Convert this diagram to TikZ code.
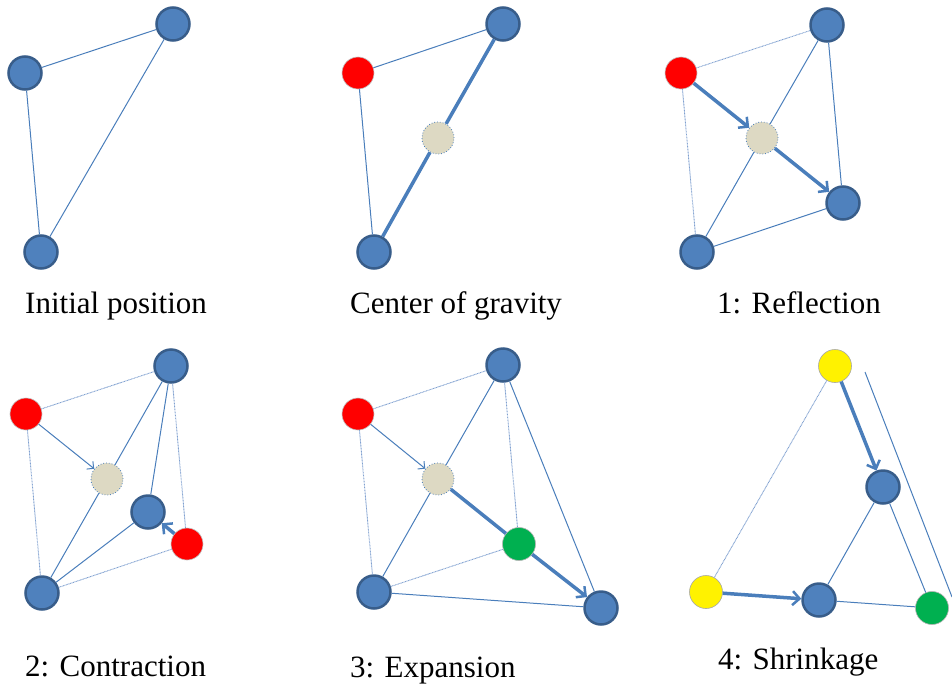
\documentclass[tikz,border=0pt]{standalone}
\usepackage{fontspec}
\setmainfont{Liberation Serif}
\usetikzlibrary{arrows.meta}
\definecolor{nblue}{HTML}{4F81BD}
\definecolor{nbord}{HTML}{385D8A}
\definecolor{ecol}{HTML}{4A7EBB}
\definecolor{dcol}{HTML}{7FA0D0}
\definecolor{beige}{HTML}{DDD9C3}
\definecolor{ngreen}{HTML}{00B050}
\tikzset{
  bnode/.style={circle,minimum size=33pt,inner sep=0pt,fill=nblue,draw=nbord,line width=2.5pt},
  rnode/.style={circle,minimum size=32pt,inner sep=0pt,fill=red,draw=gray!50,line width=0.6pt},
  cnode/.style={circle,minimum size=32pt,inner sep=0pt,fill=beige,draw=ecol,dotted,line width=0.8pt},
  gnode/.style={circle,minimum size=33pt,inner sep=0pt,fill=ngreen,draw=gray!60,line width=0.6pt},
  ynode/.style={circle,minimum size=33pt,inner sep=0pt,fill=yellow,draw=gray!70,line width=0.6pt},
  thin edge/.style={draw=ecol,line width=1pt},
  dot edge/.style={draw=dcol,line width=0.9pt,dash pattern=on 0.9pt off 0.6pt},
  thick edge/.style={draw=ecol,line width=3.5pt},
  thick arrow/.style={thick edge,-{Straight Barb[length=7pt,width=14pt,line width=2.5pt]}},
  thin arrow/.style={thin edge,-{Straight Barb[length=5pt,width=10pt,line width=1pt]}},
  lab/.style={anchor=base west,inner sep=0pt,font=\fontsize{31}{36}\selectfont}
}
\begin{document}
\begin{tikzpicture}[x=1pt,y=-1pt]
\useasboundingbox (0,0) rectangle (952,688);
% Panel 1
\node[bnode] (a1) at (173,24) {};
\node[bnode] (b1) at (25,73) {};
\node[bnode] (c1) at (41,252) {};
\draw[thin edge] (a1) -- (b1);
\draw[thin edge] (b1) -- (c1);
\draw[thin edge] (a1) -- (c1);
\node[lab] (l1) at (25,313) {Initial position};
% Panel 2
\node[bnode] (a2) at (503,24) {};
\node[rnode] (r2) at (358,73) {};
\node[cnode] (g2) at (438,138) {};
\node[bnode] (c2) at (374,252) {};
\draw[thin edge] (r2) -- (a2);
\draw[thin edge] (r2) -- (c2);
\draw[thick edge] (a2) -- (g2);
\draw[thick edge] (g2) -- (c2);
\node[lab] (l2) at (350,313) {Center of gravity};
% Panel 3
\node[bnode] (a3) at (827,25) {};
\node[rnode] (r3) at (681,73) {};
\node[cnode] (g3) at (762,138) {};
\node[bnode] (d3) at (843,203) {};
\node[bnode] (c3) at (697,252) {};
\draw[dot edge] (r3) -- (a3);
\draw[dot edge] (r3) -- (c3);
\draw[thin edge] (a3) -- (g3);
\draw[thin edge] (g3) -- (c3);
\draw[thin edge] (a3) -- (d3);
\draw[thin edge] (c3) -- (d3);
\draw[thick arrow] (r3) -- (g3);
\draw[thick arrow] (g3) -- (d3);
\node[lab] (l3) at (717,313) {1: Reflection};
% Panel 4
\node[bnode] (a4) at (171,366) {};
\node[rnode] (r4) at (26,414) {};
\node[cnode] (g4) at (107,479) {};
\node[bnode] (i4) at (148,512) {};
\node[rnode] (q4) at (187,544) {};
\node[bnode] (c4) at (42,593) {};
\draw[dot edge] (r4) -- (a4);
\draw[dot edge] (r4) -- (c4);
\draw[thin edge] (a4) -- (g4);
\draw[thin edge] (g4) -- (c4);
\draw[thin edge] (a4) -- (i4);
\draw[dot edge] (a4) -- (q4);
\draw[thin edge] (c4) -- (i4);
\draw[dot edge] (c4) -- (q4);
\draw[thin arrow] (r4) -- (g4);
\draw[thick arrow] (q4) -- (i4);
\node[lab] (l4) at (25,676) {2: Contraction};
% Panel 5
\node[bnode] (a5) at (503,365) {};
\node[rnode] (r5) at (358,414) {};
\node[cnode] (g5) at (438,479) {};
\node[gnode] (e5) at (519,544) {};
\node[bnode] (c5) at (374,592) {};
\node[bnode] (d5) at (601,608) {};
\draw[dot edge] (r5) -- (a5);
\draw[dot edge] (r5) -- (c5);
\draw[thin edge] (a5) -- (g5);
\draw[thin edge] (g5) -- (c5);
\draw[dot edge] (a5) -- (e5);
\draw[thin edge] (a5) -- (d5);
\draw[dot edge] (c5) -- (e5);
\draw[thin edge] (c5) -- (d5);
\draw[thin arrow] (r5) -- (g5);
\draw[thick edge] (g5) -- (e5);
\draw[thick arrow] (e5) -- (d5);
\node[lab] (l5) at (350,677) {3: Expansion};
% Panel 6
\node[ynode] (y6) at (835,366) {};
\node[bnode] (m6) at (883,487) {};
\node[ynode] (z6) at (706,592) {};
\node[bnode] (b6) at (819,600) {};
\node[gnode] (e6) at (932,608) {};
\draw[dot edge] (y6) -- (z6);
\draw[thin edge] (m6) -- (b6);
\draw[thin edge] (m6) -- (e6);
\draw[thin edge] (b6) -- (e6);
\draw[thick arrow] (y6) -- (m6);
\draw[thick arrow] (z6) -- (b6);
\coordinate (s1) at (865,372);
\coordinate (s2) at (952,597);
\draw[thin edge] (s1) -- (s2);
\node[lab] (l6) at (718,669) {4: Shrinkage};
\end{tikzpicture}
\end{document}
